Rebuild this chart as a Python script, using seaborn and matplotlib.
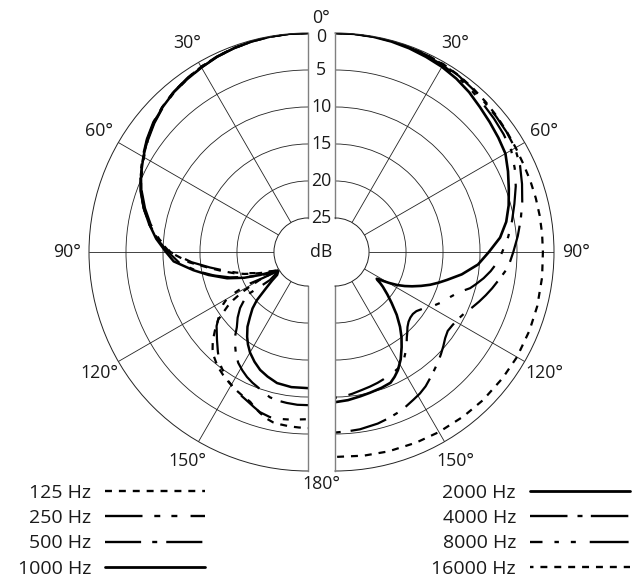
import numpy as np
import pandas as pd
import matplotlib
matplotlib.use("Agg")
import matplotlib.pyplot as plt
import matplotlib.transforms as mtransforms
from matplotlib.lines import Line2D
import seaborn as sns

# Polar pattern, attenuation in dB against angle in degrees
# left half: 125 - 1000 Hz, right half: 2000 - 16000 Hz
ang_125 = [0, 5, 10, 15, 20, 25, 30, 35, 40, 45, 50, 55, 60, 65, 70, 75, 80, 85, 90,
           95, 99, 102.5, 106, 109, 112, 115, 117, 121, 120.3, 120, 120.7, 121.5, 122.7, 124,
           127, 130, 133, 135.5, 138, 141.6, 145.4, 148.7, 152, 155.5, 158.9, 161, 163.4,
           166, 168.4, 171, 174, 177, 180]
att_125 = [0, 0, 0.05, 0.15, 0.25, 0.45, 0.7, 1.0, 1.35, 1.8, 2.4, 3.1, 3.9, 4.7, 5.6, 6.6, 7.8, 9.2, 10.9,
           13.5, 16.0, 17.7, 19.2, 20.5, 21.8, 23.0, 23.8, 24.8, 23.4, 22.0, 20.4, 19.0, 17.6, 16.5,
           14.4, 13.2, 12.0, 11.2, 10.6, 9.9, 9.4, 9.0, 8.6, 8.25, 7.9, 7.4, 6.9,
           6.4, 6.1, 6.0, 5.9, 5.85, 5.8]

ang_250 = [0, 5, 10, 15, 20, 25, 30, 35, 40, 45, 50, 55, 60, 65, 70, 75, 80, 85, 90,
           95, 99, 102.5, 106, 109, 112, 115, 118, 122, 120, 118.5, 118.8, 119.5, 121.5, 124.3,
           129, 134, 138, 141.6, 146, 149, 152, 155, 158.2, 160.8, 163.3, 167, 170, 173, 176, 180]
att_250 = [0, 0, 0.05, 0.15, 0.3, 0.5, 0.8, 1.1, 1.45, 1.9, 2.5, 3.2, 4.0, 4.8, 5.7, 6.8, 8.0, 9.4, 11.0,
           13.8, 16.2, 18.0, 19.5, 20.8, 22.0, 23.1, 24.0, 24.6, 22.6, 20.7, 19.0, 17.2, 16.2, 15.2,
           13.7, 12.5, 11.4, 10.4, 9.5, 9.0, 8.6, 8.2, 7.8, 7.4, 7.0, 6.7, 6.7, 6.8, 6.9, 7.0]

ang_500 = [0, 5, 10, 15, 20, 25, 30, 35, 40, 45, 50, 55, 60, 65, 70, 75, 80, 85, 90,
           95, 100, 104, 108, 112, 115, 118, 120, 123, 126.4, 125.8, 125.3, 127, 129.5, 133,
           136.6, 139, 141.3, 144.5, 147.8, 151, 154, 157, 159.7, 162.5, 165.3, 168.5, 172, 176, 180]
att_500 = [0, 0, 0.05, 0.15, 0.3, 0.45, 0.7, 1.0, 1.35, 1.8, 2.3, 3.0, 3.8, 4.6, 5.5, 6.6, 7.8, 9.1, 10.7,
           12.2, 14.5, 16.5, 18.5, 20.6, 22.0, 23.2, 24.0, 24.8, 23.2, 21.5, 20.0, 18.8, 17.7, 16.6,
           15.6, 14.6, 13.8, 12.8, 11.9, 11.3, 10.8, 10.4, 10.1, 9.7, 9.3, 9.1, 9.0, 8.9, 8.9]

ang_1000 = [0, 5, 10, 15, 20, 25, 30, 35, 40, 45, 50, 55, 60, 65, 70, 75, 80, 85, 90,
            94, 99, 103, 108, 112, 115.6, 118, 120.5, 123, 126.6, 128.5, 130.5, 133.3, 135.5,
            138.3, 141, 144.3, 147, 150.1, 154, 157.9, 162, 166.7, 173, 180]
att_1000 = [0, 0, 0.05, 0.15, 0.3, 0.5, 0.8, 1.1, 1.4, 1.85, 2.4, 3.1, 3.9, 4.7, 5.6, 6.6, 7.8, 9.0, 10.4,
            11.4, 13.9, 15.8, 18.1, 20.3, 22.4, 23.7, 24.6, 24.8, 24.4, 23.4, 22.3, 20.1, 18.9,
            17.8, 16.6, 15.5, 14.7, 13.9, 13.1, 12.4, 11.9, 11.4, 11.2, 11.2]

ang_2000 = [0, 5, 10, 15, 20, 25, 30, 35, 40, 45, 50, 55, 60, 65, 70, 75, 80, 85, 90,
            95, 100, 104, 106.5, 109, 111.5, 114, 116, 118, 119.8, 121, 122, 122.7, 123.5, 124.5,
            126, 129, 132, 135.5, 139, 142, 145, 148.5, 152, 154.5, 157, 161, 166, 170, 175, 180]
att_2000 = [0, 0, 0.05, 0.15, 0.3, 0.5, 0.7, 1.0, 1.4, 1.9, 2.3, 2.65, 3.0, 3.8, 4.6, 5.3, 6.1, 7.2, 8.8,
            10.2, 12.2, 14.0, 15.0, 16.0, 17.1, 18.2, 19.1, 20.1, 21.2, 22.0, 22.7, 22.9, 22.7, 22.2,
            21.6, 20.5, 19.3, 17.7, 16.2, 15.0, 13.9, 12.6, 11.5, 10.9, 10.4, 10.2, 10.0, 9.8, 9.5, 9.3]

ang_4000 = [0, 5, 10, 15, 20, 25, 30, 35, 40, 45, 50, 55, 60, 65, 70, 75, 80, 85, 90,
            95, 99, 103, 106, 109, 112, 115, 119, 122, 125, 128, 131, 134, 137, 142, 146, 149,
            152, 157, 162, 166, 172, 176, 180]
att_4000 = [0, 0, 0.03, 0.1, 0.15, 0.25, 0.35, 0.5, 0.75, 1.0, 1.15, 1.3, 1.5, 2.0, 2.7, 3.4, 4.1, 4.8, 5.5,
            6.1, 7.0, 7.8, 8.4, 9.0, 9.6, 10.2, 10.7, 10.9, 11.0, 10.7, 10.2, 9.7, 9.2, 8.4, 7.7, 7.3,
            7.0, 6.4, 6.0, 5.7, 5.4, 5.3, 5.2]

ang_8000 = [0, 5, 10, 15, 20, 25, 30, 35, 40, 45, 50, 55, 60, 65, 70, 75, 80, 85, 90,
            94, 97, 100, 103, 105, 108, 111, 115, 118, 120, 123, 126, 128.5, 131, 133.5, 136, 138,
            140, 142.5, 145, 147.5, 150, 153, 156, 159, 162, 165.5, 169, 173, 177, 180]
att_8000 = [0, 0, 0.03, 0.1, 0.2, 0.3, 0.45, 0.7, 1.0, 1.3, 1.55, 1.8, 2.1, 2.8, 3.6, 4.5, 5.3, 6.1, 7.0,
            7.7, 8.4, 9.2, 10.1, 10.7, 12.0, 12.8, 13.6, 14.3, 14.8, 15.5, 16.0, 16.15, 16.1, 15.9, 15.5, 15.0,
            14.5, 13.7, 13.0, 12.3, 11.8, 11.6, 11.4, 11.2, 11.0, 10.8, 10.6, 10.3, 10.0, 9.9]

ang_16000 = [0, 5, 10, 15, 20, 25, 30, 35, 40, 45, 50, 55, 60, 65, 70, 75, 80, 85, 90,
             97, 105, 112, 120, 127, 135, 142, 150, 157, 165, 172, 180]
att_16000 = [0, 0, 0.02, 0.05, 0.1, 0.2, 0.3, 0.45, 0.65, 0.85, 1.05, 1.25, 1.4, 1.5, 1.5, 1.5, 1.5, 1.5, 1.5,
             1.4, 1.3, 1.25, 1.2, 1.25, 1.3, 1.4, 1.5, 1.6, 1.7, 1.8, 1.9]

freq_left = ["125 Hz", "250 Hz", "500 Hz", "1000 Hz"]
freq_right = ["2000 Hz", "4000 Hz", "8000 Hz", "16000 Hz"]
db_ticks = [0, 5, 10, 15, 20, 25]
angle_ticks = [30, 60, 90, 120, 150]

# line styles (points, unscaled)
dash_map = {
    "125 Hz": (5, 5),
    "250 Hz": (27, 8.5, 4.3, 8, 4.3, 9.5),
    "500 Hz": (26, 8, 3.6, 6.5),
    "1000 Hz": "",
    "2000 Hz": "",
    "4000 Hz": (27, 7.2, 3.6, 6),
    "8000 Hz": (28, 8.6, 3.2, 8.6, 3.6, 10),
    "16000 Hz": (5, 5),
}
dash_offset = {"8000 Hz": 19, "16000 Hz": 2.5}
width_map = {"125 Hz": 1.6, "250 Hz": 1.6, "500 Hz": 1.6, "1000 Hz": 1.8,
             "2000 Hz": 1.9, "4000 Hz": 1.6, "8000 Hz": 1.6, "16000 Hz": 1.6}

sns.set_theme(style="white")
plt.rcParams["font.family"] = ["Open Sans", "DejaVu Sans"]
plt.rcParams["lines.scale_dashes"] = False
plt.rcParams["text.color"] = "#1a1a1a"

FS = 12.8
FS_LEG = 14
W, H = 637, 582
R_PX = 219          # 0 dB ring radius
HOLE_DB = 4.6       # hole in the middle, in dB units


def half_frame(curves):
    parts = []
    for label, ang, att in curves:
        parts.append(pd.DataFrame({"theta": np.deg2rad(ang),
                                   "level": -np.asarray(att, dtype=float),
                                   "freq": label}))
    return pd.concat(parts, ignore_index=True)


left_df = half_frame(zip(freq_left, [ang_125, ang_250, ang_500, ang_1000],
                         [att_125, att_250, att_500, att_1000]))
right_df = half_frame(zip(freq_right, [ang_2000, ang_4000, ang_8000, ang_16000],
                          [att_2000, att_4000, att_8000, att_16000]))

fig = plt.figure(figsize=(W / 100, H / 100), dpi=100)
fig.patch.set_facecolor("white")

# half wedges sit centred in a square box, so the boxes are 2R wide
cy = 252
bottom = (H - (cy + R_PX)) / H
ax_l = fig.add_axes([(308 - 1.5 * R_PX) / W, bottom, 2 * R_PX / W, 2 * R_PX / H], projection="polar")
ax_r = fig.add_axes([(335 - 0.5 * R_PX) / W, bottom, 2 * R_PX / W, 2 * R_PX / H], projection="polar")


def setup_half(ax, direction):
    ax.set_theta_zero_location("N")
    ax.set_theta_direction(direction)
    ax.set_thetamin(0)
    ax.set_thetamax(180)
    ax.set_ylim(-25, 0)
    ax.set_rorigin(-25 - HOLE_DB)
    ax.set_xticks(np.deg2rad(angle_ticks))
    ax.set_yticks([-20, -15, -10, -5])
    ax.set_xticklabels([])
    ax.set_yticklabels([])
    ax.tick_params(length=0)
    ax.grid(True, color="#222222", lw=0.6)
    ax.spines["polar"].set(color="#222222", lw=0.7)
    ax.spines["inner"].set(color="#222222", lw=0.7)
    ax.spines["start"].set(color="#808080", lw=1.0)
    ax.spines["end"].set(color="#808080", lw=1.0)
    ax.set_facecolor("none")


for ax, df in [(ax_l, left_df), (ax_r, right_df)]:
    sns.lineplot(data=df, x="theta", y="level", style="freq", size="freq",
                 dashes=dash_map, sizes=width_map, color="black", sort=False,
                 estimator=None, legend=False, ax=ax)
    ax.set_xlabel("")
    ax.set_ylabel("")

setup_half(ax_l, 1)
setup_half(ax_r, -1)

# angle labels outside the rings
for ax in (ax_l, ax_r):
    for a in angle_ticks:
        ax.text(np.deg2rad(a), 3.0, f"{a}°", ha="center", va="center",
                fontsize=FS, clip_on=False)

# labels in the gap between the two halves
gap = mtransforms.offset_copy(ax_r.transData, fig=fig, x=-14, y=0, units="dots")
for v in db_ticks:
    r = -v if v > 0 else -0.6
    ax_r.text(0, r, str(v), transform=gap, ha="center", va="center",
              fontsize=FS, clip_on=False)
ax_r.text(0, 2.0, "0°", transform=gap, ha="center", va="center", fontsize=FS, clip_on=False)
ax_r.text(np.pi, 1.8, "180°", transform=gap, ha="center", va="center", fontsize=FS, clip_on=False)
ax_r.text(0, -25 - HOLE_DB, "dB", transform=gap, ha="center", va="center", fontsize=FS, clip_on=False)


def handles_for(labels):
    out = []
    for lab in labels:
        d = dash_map[lab]
        ls = "-" if d == "" else (dash_offset.get(lab, 0), d)
        out.append(Line2D([], [], color="black", lw=1.7 if d else 2.0, linestyle=ls))
    return out


leg_kw = dict(loc="upper right", markerfirst=False, frameon=False, handlelength=72 / FS_LEG,
              handletextpad=0.72, labelspacing=0.37, fontsize=FS_LEG, borderpad=0, borderaxespad=0)
leg1 = fig.legend(handles_for(freq_left), freq_left, bbox_to_anchor=(205 / W, 1 - 484 / H), **leg_kw)
leg2 = fig.legend(handles_for(freq_right), freq_right, bbox_to_anchor=(630 / W, 1 - 484 / H), **leg_kw)

fig.savefig("out.png", dpi=100, facecolor="white")
